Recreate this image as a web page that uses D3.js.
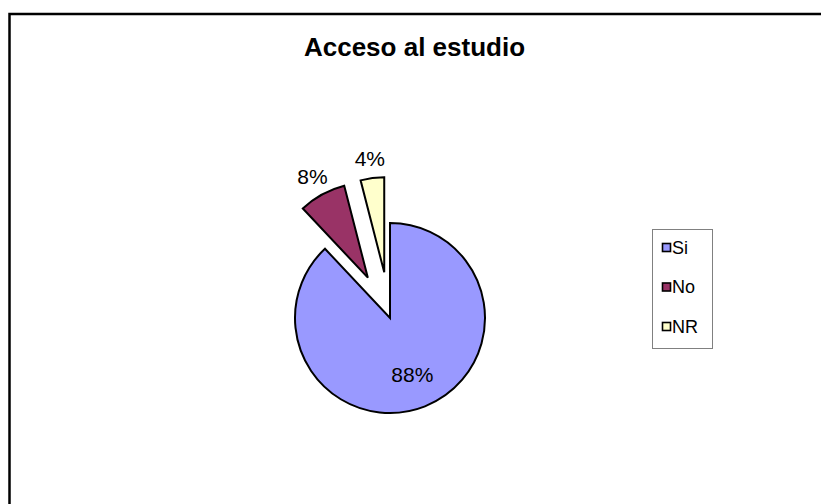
<!DOCTYPE html>
<html>
<head>
<meta charset="utf-8">
<script src="https://cdn.jsdelivr.net/npm/d3@7"></script>
<style>
  body { margin: 0; background: #fff; }
  text { font-family: "Liberation Sans", Arial, sans-serif; }
</style>
</head>
<body>
<svg id="chart" width="821" height="504"></svg>
<script>
// chart data
const categories = ['Si', 'No', 'NR'];
const values = [88, 8, 4];
const labels = ['88%', '8%', '4%'];
const colors = ['#9999ff', '#993366', '#ffffcc'];
const exploded = [false, true, true];

const svg = d3.select('#chart');

// outer chart border (runs past the right and bottom edges)
svg.append('rect')
  .attr('x', 9.5)
  .attr('y', 14)
  .attr('width', 830)
  .attr('height', 520)
  .attr('fill', '#fff')
  .attr('stroke', '#000')
  .attr('stroke-width', 2.5);

svg.append('text')
  .attr('x', 414.5)
  .attr('y', 56)
  .attr('text-anchor', 'middle')
  .attr('font-size', '26px')
  .attr('font-weight', 'bold')
  .text('Acceso al estudio');

const radius = 95;
const explodeDist = 46;
const cx = 390, cy = 318;

const pie = d3.pie().sort(null).value(d => d);
const arcs = pie(values);
const arc = d3.arc().innerRadius(0).outerRadius(radius);

const gPie = svg.append('g')
  .attr('transform', `translate(${cx}, ${cy})`);

const mid = d => (d.startAngle + d.endAngle) / 2;
const offset = (d, i) => {
  const k = exploded[i] ? explodeDist : 0;
  return [Math.sin(mid(d)) * k, -Math.cos(mid(d)) * k];
};

gPie.selectAll('path')
  .data(arcs)
  .join('path')
  .attr('d', arc)
  .attr('transform', (d, i) => `translate(${offset(d, i)})`)
  .attr('fill', (d, i) => colors[i])
  .attr('stroke', '#000')
  .attr('stroke-width', 2)
  .attr('stroke-linejoin', 'miter');

// percentage labels: inside for the big slice, outside for the exploded ones
const labelR = i => (exploded[i] ? radius + 20 : radius * 0.64);

gPie.selectAll('text.lbl')
  .data(arcs)
  .join('text')
  .attr('class', 'lbl')
  .attr('x', (d, i) => offset(d, i)[0] + Math.sin(mid(d)) * labelR(i))
  .attr('y', (d, i) => offset(d, i)[1] - Math.cos(mid(d)) * labelR(i))
  .attr('dy', '0.35em')
  .attr('text-anchor', 'middle')
  .attr('font-size', '21px')
  .attr('fill', '#000')
  .text((d, i) => labels[i]);

// legend
const legend = svg.append('g')
  .attr('transform', 'translate(652, 229)');

legend.append('rect')
  .attr('x', 0.5)
  .attr('y', 0.5)
  .attr('width', 60)
  .attr('height', 119)
  .attr('fill', '#fff')
  .attr('stroke', '#808080')
  .attr('stroke-width', 1);

const yLegend = d3.scalePoint()
  .domain(categories)
  .range([18.5, 97.5]);

const items = legend.selectAll('.legend')
  .data(categories)
  .join('g')
  .attr('class', 'legend')
  .attr('transform', d => `translate(0, ${yLegend(d)})`);

items.append('rect')
  .attr('x', 10.5)
  .attr('y', -4)
  .attr('width', 8)
  .attr('height', 8)
  .attr('fill', (d, i) => colors[i])
  .attr('stroke', '#000')
  .attr('stroke-width', 1.6);

items.append('text')
  .attr('x', 20)
  .attr('y', 0)
  .attr('dy', '0.36em')
  .attr('font-size', '18px')
  .text(d => d);
</script>
</body>
</html>
